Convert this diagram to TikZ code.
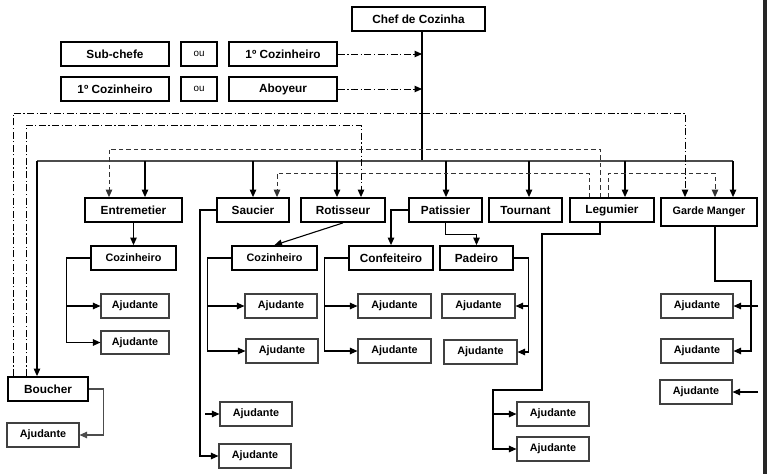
\documentclass[tikz,border=0pt]{standalone}
\usepackage{fontspec}
\setmainfont{Liberation Sans}
\usetikzlibrary{arrows.meta}
\begin{document}
\begin{tikzpicture}[x=1pt,y=-1pt,
  box/.style={draw, line width=1.8pt, inner sep=0pt, minimum height=24pt, font=\bfseries\fontsize{11.8}{13}\selectfont},
  sbox/.style={draw, line width=1.8pt, inner sep=0pt, minimum height=24pt, font=\bfseries\fontsize{10.8}{12}\selectfont},
  oubox/.style={draw, line width=1.8pt, inner sep=0pt, minimum width=36pt, minimum height=24pt, font=\fontsize{9.8}{11}\selectfont},
  abox/.style={draw=black!75, line width=1.1pt, inner sep=0pt, minimum width=72pt, minimum height=24pt, font=\bfseries\fontsize{10.8}{12}\selectfont},
  conn/.style={line width=1.1pt},
  arr/.style={conn, -{Triangle[length=7.5pt,width=6.5pt]}},
  dd/.style={line width=1pt, dash pattern=on 7pt off 2.5pt on 1.2pt off 2.5pt},
  ds/.style={line width=1pt, black!80, dash pattern=on 4.5pt off 3pt},
  tip/.style={-{Triangle[length=7.5pt,width=6.5pt]}},
]
\useasboundingbox (0,0) rectangle (767,474);
\fill[white] (0,0) rectangle (767,474);
\fill[black!85] (763,0) rectangle (767,474);

% top
\node[box, minimum width=133pt] (chef) at (418.5,19) {Chef de Cozinha};
\node[box, minimum width=108pt] (sub) at (115,54) {Sub-chefe};
\node[oubox] (ou1) at (199,54) {ou};
\node[box, minimum width=108pt] (cz1a) at (283,54) {1º Cozinheiro};
\node[box, minimum width=108pt] (cz1b) at (115,89) {1º Cozinheiro};
\node[oubox] (ou2) at (199,89) {ou};
\node[box, minimum width=108pt] (abo) at (283,89) {Aboyeur};

% row of stations
\node[box, minimum width=97pt] (ent) at (133.5,210) {Entremetier};
\node[box, minimum width=72pt] (sau) at (253,210) {Saucier};
\node[box, minimum width=84pt] (rot) at (343,210) {Rotisseur};
\node[box, minimum width=73pt] (pat) at (445.5,210) {Patissier};
\node[box, minimum width=73pt] (tou) at (525.5,210) {Tournant};
\node[box, minimum width=84pt] (leg) at (612,210) {Legumier};
\node[sbox, minimum width=96pt, minimum height=28pt] (gm) at (709,212) {\raisebox{2pt}{Garde Manger}};
\node[box, minimum width=80pt] (bou) at (48,389) {Boucher};

% second level
\node[sbox, minimum width=85pt] (czA) at (133.5,258) {Cozinheiro};
\node[sbox, minimum width=85pt] (czB) at (274.5,258) {Cozinheiro};
\node[box, minimum width=84pt] (cf) at (391,258) {Confeiteiro};
\node[box, minimum width=73pt] (pad) at (476.5,258) {Padeiro};

% ajudantes
\node[abox, minimum width=68pt] (aj1) at (135,306) {Ajudante};
\node[abox, minimum width=68pt, minimum height=23pt] (aj2) at (135,342.5) {Ajudante};
\node[abox] (ajb) at (43,435) {Ajudante};
\node[abox] (ajs1) at (256,414) {Ajudante};
\node[abox] (ajs2) at (255,456) {Ajudante};
\node[abox] (aj3) at (281,306) {Ajudante};
\node[abox] (aj4) at (282,351) {Ajudante};
\node[abox, minimum width=73pt] (aj5) at (394.5,306) {Ajudante};
\node[abox, minimum width=73pt] (aj6) at (394.5,351) {Ajudante};
\node[abox, minimum width=73pt] (aj7) at (478.5,306) {Ajudante};
\node[abox, minimum width=73pt] (aj8) at (480.5,352) {Ajudante};
\node[abox] (ajl1) at (553,414) {Ajudante};
\node[abox] (ajl2) at (553,449) {Ajudante};
\node[abox] (ajg1) at (697,306) {Ajudante};
\node[abox] (ajg2) at (697,351) {Ajudante};
\node[abox] (ajg3) at (696,392) {Ajudante};

% bus
\coordinate (hub) at (422,161);
\coordinate (b0) at (37,161);
\coordinate (b1) at (145,161);
\coordinate (b2) at (253,161);
\coordinate (b3) at (337,161);
\coordinate (b4) at (446,161);
\coordinate (b5) at (529,161);
\coordinate (b6) at (625,161);
\coordinate (b7) at (733,161);
\draw[conn] (chef.south -| hub) -- (hub);
\draw[conn, black!70, line width=1.3pt] (b0) -- (b7);
\draw[arr] (b0) -- (b0 |- bou.north);
\draw[arr] (b1) -- (b1 |- ent.north);
\draw[arr] (b2) -- (b2 |- sau.north);
\draw[arr] (b3) -- (b3 |- rot.north);
\draw[arr] (b4) -- (b4 |- pat.north);
\draw[arr] (b5) -- (b5 |- tou.north);
\draw[arr] (b6) -- (b6 |- leg.north);
\draw[arr] (b7) -- (b7 |- gm.north);

% dash-dot links
\draw[dd, tip] (cz1a.east) -- (cz1a.east -| hub);
\draw[dd, tip] (abo.east) -- (abo.east -| hub);
\coordinate (o1) at (13,113);
\coordinate (o2) at (685,113);
\draw[dd, tip] (bou.north -| o1) -- (o1) -- (o2) -- (o2 |- gm.north);
\coordinate (i1) at (26,125);
\coordinate (i2) at (361,125);
\draw[dd, tip] (bou.north -| i1) -- (i1) -- (i2) -- (i2 |- rot.north);

% dashed links
\coordinate (d1) at (109,149);
\coordinate (d2) at (600,149);
\draw[ds, tip] (d2 |- leg.north) -- (d2) -- (d1) -- (d1 |- ent.north);
\coordinate (e1) at (277,173);
\coordinate (e2) at (589,173);
\draw[ds, tip] (e2 |- leg.north) -- (e2) -- (e1) -- (e1 |- sau.north);
\coordinate (f1) at (608,173);
\coordinate (f2) at (715,173);
\draw[ds, tip] (f1 |- leg.north) -- (f1) -- (f2) -- (f2 |- gm.north);

% Entremetier branch
\draw[arr] (ent.south) -- (czA.north);
\draw[arr] (czA.west) -- ++(-24,0) |- (aj1.west);
\draw[arr] (czA.west) -- ++(-24,0) |- (aj2.west);

% Boucher branch
\draw[arr, black!70] (bou.east) -- ++(15,0) |- (ajb.east);

% Saucier branch
\coordinate (s1) at (200,210);
\coordinate (s2) at (205,414);
\draw[arr] (sau.west) -- (s1) |- (ajs2.west);
\draw[arr] (s2) -- (ajs1.west);

% Rotisseur branch
\draw[arr] (rot.south) -- (czB.north);
\draw[arr] (czB.west) -- ++(-24,0) |- (aj3.west);
\draw[arr] (czB.west) -- ++(-24,0) |- (aj4.west);

% Patissier branch
\draw[arr] (pat.west) -| (cf.north);
\draw[arr] (pat.south) -- ++(0,12) -| (pad.north);
\draw[arr] (cf.west) -- ++(-24,0) |- (aj5.west);
\draw[arr] (cf.west) -- ++(-24,0) |- (aj6.west);
\draw[arr] (pad.east) -- ++(15,0) |- (aj7.east);
\draw[arr] (pad.east) -- ++(15,0) |- (aj8.east);

% Legumier branch
\coordinate (l0) at (600,222);
\coordinate (l1) at (542,234);
\coordinate (l2) at (493,390);
\draw[arr] (l0) -- (l0 |- l1) -- (l1) -- (l1 |- l2) -- (l2) |- (ajl2.west);
\draw[arr] (l2) |- (ajl1.west);

% Garde Manger branch
\coordinate (g0) at (715,226);
\coordinate (g1) at (751,281);
\draw[arr] (g0) -- (g0 |- g1) -- (g1) |- (ajg2.east);
\coordinate (r1) at (758,306);
\coordinate (r2) at (758,392);
\draw[arr] (r1) -- (ajg1.east);
\draw[arr] (r2) -- (ajg3.east);
\end{tikzpicture}
\end{document}
